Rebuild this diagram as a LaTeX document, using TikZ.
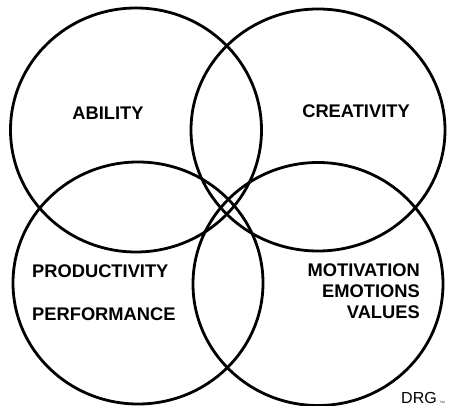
\documentclass[tikz,border=0pt]{standalone}
\usepackage{fontspec}
\setmainfont{Liberation Sans}
\begin{document}
\begin{tikzpicture}[x=1pt,y=-1pt,
  ring/.style={line width=2.8pt,black},
  lbl/.style={font=\fontsize{18.3}{21}\selectfont\bfseries,inner sep=0pt},
  sigtext/.style={font=\fontsize{16}{18}\selectfont,inner sep=0pt}]
\useasboundingbox (0,0) rectangle (450,406);
\draw[ring] (136,130) ellipse [x radius=125.5pt, y radius=122pt];
\draw[ring] (318,130) ellipse [x radius=127pt, y radius=121pt];
\draw[ring] (138,283) ellipse [x radius=125pt, y radius=121pt];
\draw[ring] (318,284) ellipse [x radius=125pt, y radius=121.5pt];
\node[lbl] (abil) at (108,113) {ABILITY};
\node[lbl] (crea) at (356,111) {CREATIVITY};
\node[lbl,anchor=west] (prod) at (32,271) {PRODUCTIVITY};
\node[lbl,anchor=west] (perf) at (32,314) {PERFORMANCE};
\node[lbl,anchor=east] (moti) at (420,270) {MOTIVATION};
\node[lbl,anchor=east] (emot) at (420,291) {EMOTIONS};
\node[lbl,anchor=east] (valu) at (420,312) {VALUES};
\node[sigtext,anchor=base east] (drg) at (437,403) {DRG};
\node[font=\fontsize{3}{4}\selectfont,inner sep=0pt,anchor=base west] (tm) at (440,403) {TM};
\end{tikzpicture}
\end{document}
